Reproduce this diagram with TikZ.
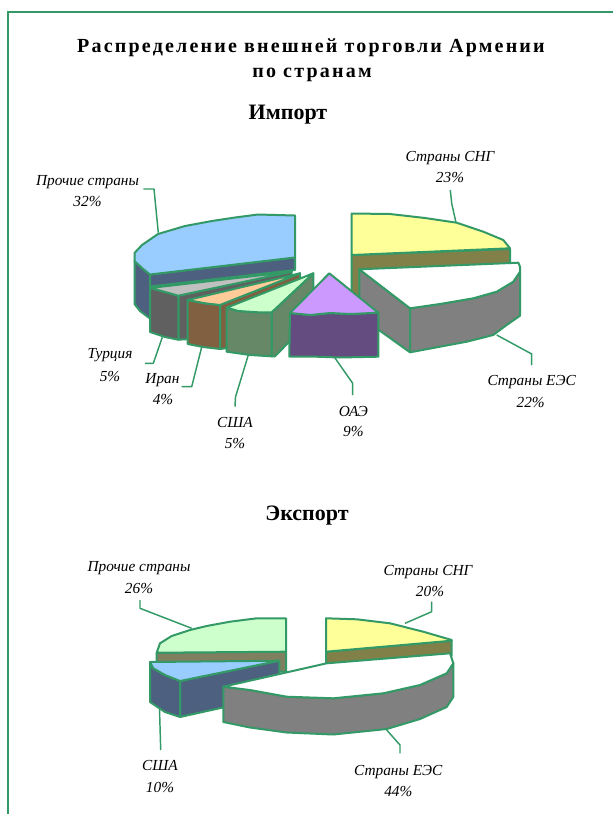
\documentclass[tikz,border=0pt]{standalone}
\usepackage{fontspec}
\setmainfont{Liberation Serif}
\definecolor{sg}{HTML}{339966}
\definecolor{lblue}{HTML}{99CCFF}
\definecolor{dblue}{HTML}{4D6080}
\definecolor{lgrey}{HTML}{C0C0C0}
\definecolor{dgrey}{HTML}{606060}
\definecolor{peach}{HTML}{FFCC99}
\definecolor{brownf}{HTML}{806040}
\definecolor{lgreen}{HTML}{CCFFCC}
\definecolor{dgreen}{HTML}{668866}
\definecolor{lilac}{HTML}{CC99FF}
\definecolor{purplef}{HTML}{644C80}
\definecolor{lyellow}{HTML}{FFFF99}
\definecolor{olive}{HTML}{808048}
\definecolor{olivegr}{HTML}{808060}
\definecolor{greyf}{HTML}{808080}
\begin{document}
\begin{tikzpicture}[x=0.75pt,y=-0.75pt,
  face/.style={draw=sg, line width=1.5pt, line join=round},
  leader/.style={draw=sg, line width=1.1pt, line join=round},
  lbl/.style={font=\fontsize{11.5}{13}\selectfont\itshape, inner sep=0pt, anchor=base},
  head/.style={font=\bfseries\fontsize{16.5}{19}\selectfont, inner sep=0pt, anchor=base},
  ttl/.style={font=\bfseries\fontsize{15}{18}\selectfont\addfontfeature{LetterSpace=11}, inner sep=0pt, anchor=base}]
\useasboundingbox (0,0) rectangle (612,814);
% frame
\draw[sg, line width=1.5pt] (8,820) -- (8,11.7) -- (620,11.7);
% titles
\node[ttl] (t1) at (311,52.7) {Распределение внешней торговли Армении};
\node[ttl] (t2) at (312,77.3) {по странам};
\node[head] (imp) at (288,119.3) {Импорт};
\node[head] (exp) at (307,520) {Экспорт};

% ===== IMPORT PIE =====
% Прочие страны (blue)
\filldraw[face, fill=dblue] (134.5,261) -- (142,268) -- (150,274.5) -- (150,318.5) -- (140,311) -- (134.5,304) -- cycle;
\filldraw[face, fill=dblue] (150,274.5) -- (295,257.5) -- (295,270) -- (150,286.5) -- cycle;
\filldraw[face, fill=lblue] (295,215.5) -- (258,214.5) -- (235,217.5) -- (212,221) -- (185,226) -- (158,234) -- (142,245) -- (134.5,253) -- (134.5,261) -- (142,268) -- (150,274.5) -- (295,257.5) -- cycle;
% Турция (grey)
\filldraw[face, fill=dgrey] (178.3,295.7) -- (291.7,271.7) -- (291.7,283) -- (190,339) -- (178.3,339.7) -- cycle;
\filldraw[face, fill=dgrey] (150,288) -- (161.7,291) -- (178.3,295.7) -- (178.3,339.7) -- (165,337) -- (150,332) -- cycle;
\filldraw[face, fill=lgrey] (150,288) -- (291.7,271.7) -- (178.3,295.7) -- (161.7,291) -- cycle;
% Иран (orange)
\filldraw[face, fill=brownf] (220,305) -- (300,273.3) -- (300,281) -- (228,348) -- (220,349) -- cycle;
\filldraw[face, fill=brownf] (187.7,300) -- (205,303.3) -- (220,305) -- (220,349) -- (203,347) -- (187.7,344) -- cycle;
\filldraw[face, fill=peach] (187.7,300) -- (300,273.3) -- (220,305) -- (205,303.3) -- cycle;
% США (green)
\filldraw[face, fill=dgreen] (271.7,312.3) -- (313.3,273.3) -- (313.3,317) -- (275,356.3) -- (271.7,356.3) -- cycle;
\filldraw[face, fill=dgreen] (226.7,307.7) -- (238.3,311) -- (258.3,312.3) -- (271.7,312.3) -- (271.7,356.3) -- (250,355) -- (226.7,351.7) -- cycle;
\filldraw[face, fill=lgreen] (226.7,307.7) -- (313.3,273.3) -- (271.7,312.3) -- (258.3,312.3) -- (238.3,311) -- cycle;
% Страны СНГ (yellow)
\filldraw[face, fill=olive] (351.7,255) -- (510,249) -- (510,266) -- (360,270) -- (360,305) -- (351.7,300) -- cycle;
\filldraw[face, fill=lyellow] (351.7,213.5) -- (390,214) -- (425,218) -- (456.7,222.7) -- (483.3,231.7) -- (503.3,240) -- (510,248.3) -- (351.7,255) -- cycle;
% Страны ЕЭС (white / grey)
\filldraw[face, fill=greyf] (359.3,269.3) -- (410,308.3) -- (410,352.3) -- (359.3,316) -- cycle;
\filldraw[face, fill=greyf] (410,308.3) -- (440,304) -- (473.3,298.3) -- (496.7,291.7) -- (513.3,281.7) -- (520,271.7) -- (520,315.7) -- (506.7,325) -- (493.3,335) -- (466.7,341.7) -- (440,346.7) -- (410,352.3) -- cycle;
\filldraw[face, fill=white] (359.3,269.3) -- (518.3,262.7) -- (520,266.7) -- (520,271.7) -- (513.3,281.7) -- (496.7,291.7) -- (473.3,298.3) -- (440,304) -- (410,308.3) -- cycle;
% ОАЭ (purple)
\filldraw[face, fill=purplef] (290,313) -- (310,315) -- (330,313) -- (350,314) -- (378.3,312.7) -- (378.3,356.7) -- (340,357.5) -- (310,356.5) -- (289.3,356.5) -- cycle;
\filldraw[face, fill=lilac] (329.3,273.3) -- (378.3,312.7) -- (350,314) -- (330,313) -- (310,315) -- (290,313) -- cycle;

% import labels
\node[lbl] (l1a) at (87.5,185) {Прочие страны};
\node[lbl] (l1b) at (87.5,206.5) {32\%};
\node[lbl] (l2a) at (110,358.5) {Турция};
\node[lbl] (l2b) at (110,381.5) {5\%};
\node[lbl] (l3a) at (162.5,383.5) {Иран};
\node[lbl] (l3b) at (163,404.5) {4\%};
\node[lbl] (l4a) at (235,427) {США};
\node[lbl] (l4b) at (235,448.5) {5\%};
\node[lbl] (l5a) at (353.3,416) {ОАЭ};
\node[lbl] (l5b) at (353.3,436.7) {9\%};
\node[lbl] (l6a) at (450,161) {Страны СНГ};
\node[lbl] (l6b) at (450,182.7) {23\%};
\node[lbl] (l7a) at (531.7,385.5) {Страны ЕЭС};
\node[lbl] (l7b) at (530.7,407) {22\%};

% import leaders
\coordinate (p1) at (143.3,189); \coordinate (q1) at (158.3,232.7);
\draw[leader] (p1) -- (154,189) -- (q1);
\coordinate (p2) at (145,363.3); \coordinate (q2) at (162.3,337.3);
\draw[leader] (p2) -- (153.3,363.3) -- (q2);
\coordinate (p3) at (181.7,386.7); \coordinate (q3) at (201.7,347);
\draw[leader] (p3) -- (191.7,386.7) -- (q3);
\coordinate (p4) at (235,406.7); \coordinate (q4) at (248.3,355);
\draw[leader] (p4) -- (235.5,397) -- (q4);
\coordinate (p5) at (352.7,395); \coordinate (q5) at (335,358);
\draw[leader] (p5) -- (352.7,383.3) -- (q5);
\coordinate (p6) at (450.3,190); \coordinate (q6) at (456,222.7);
\draw[leader] (p6) -- (451.7,203.3) -- (q6);
\coordinate (p7) at (531.7,365); \coordinate (q7) at (496.7,335);
\draw[leader] (p7) -- (531.7,354) -- (q7);

% ===== EXPORT PIE =====
% Прочие страны (green)
\filldraw[face, fill=olivegr] (156.7,652.7) -- (286,651.7) -- (286,672) -- (156.7,662.5) -- cycle;
\filldraw[face, fill=lgreen] (286,618.3) -- (256.7,618.3) -- (230,621.7) -- (206.7,626) -- (190,630) -- (171.7,636) -- (160,643.3) -- (156.7,652.7) -- (286,651.7) -- cycle;
% Страны СНГ (yellow)
\filldraw[face, fill=olive] (326,651.7) -- (451.7,640.7) -- (451.7,656) -- (326,666) -- cycle;
\filldraw[face, fill=lyellow] (326,618.3) -- (356.7,619.3) -- (390,623.3) -- (423.3,631.7) -- (451.7,640) -- (451.7,640.7) -- (326,651.7) -- cycle;
% США (blue)
\filldraw[face, fill=dblue] (180,681) -- (279.3,660.7) -- (279.3,695) -- (180,717) -- cycle;
\filldraw[face, fill=dblue] (150,662) -- (153.3,668.3) -- (165,675) -- (180,681) -- (180,717) -- (165,712) -- (150,702) -- cycle;
\filldraw[face, fill=lblue] (150,662) -- (279.3,660.7) -- (180,681) -- (165,675) -- (153.3,668.3) -- cycle;
% Страны ЕЭС (white / grey)
\filldraw[face, fill=greyf] (223.3,686.7) -- (250,690) -- (286.7,696.7) -- (333.3,698.3) -- (383.3,693.3) -- (420,685) -- (446.7,673.3) -- (453.3,663.3) -- (453.3,697) -- (446.7,707) -- (420,719) -- (386.7,729) -- (333.3,734.5) -- (286.7,732.5) -- (250,727.5) -- (223.3,722) -- cycle;
\filldraw[face, fill=white] (223.3,686.7) -- (326.7,663.3) -- (450,653.3) -- (453.3,663.3) -- (446.7,673.3) -- (420,685) -- (383.3,693.3) -- (333.3,698.3) -- (286.7,696.7) -- (250,690) -- cycle;

% export labels
\node[lbl] (e1a) at (139,571) {Прочие страны};
\node[lbl] (e1b) at (139,593) {26\%};
\node[lbl] (e2a) at (428,575) {Страны СНГ};
\node[lbl] (e2b) at (430,596) {20\%};
\node[lbl] (e3a) at (160,770.5) {США};
\node[lbl] (e3b) at (160,792) {10\%};
\node[lbl] (e4a) at (398.3,775) {Страны ЕЭС};
\node[lbl] (e4b) at (398.3,796.5) {44\%};

% export leaders
\coordinate (r1) at (140,600); \coordinate (s1) at (191.7,628.3);
\draw[leader] (r1) -- (140,608.3) -- (s1);
\coordinate (r2) at (431.7,601.7); \coordinate (s2) at (405,623.3);
\draw[leader] (r2) -- (431.7,611.7) -- (s2);
\coordinate (r3) at (160.7,750); \coordinate (s3) at (159.5,708.3);
\draw[leader] (r3) -- (s3);
\coordinate (r4) at (400,753.3); \coordinate (s4) at (386.7,730);
\draw[leader] (r4) -- (400,745) -- (s4);
\end{tikzpicture}
\end{document}
